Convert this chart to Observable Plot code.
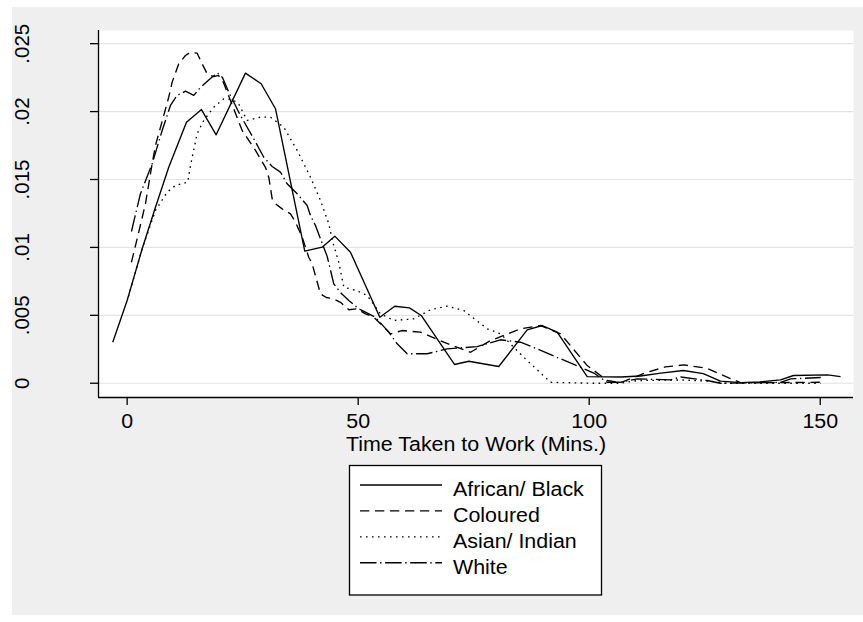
<!DOCTYPE html>
<html><head><meta charset="utf-8">
<script src="https://cdn.jsdelivr.net/npm/d3@7"></script>
<script src="https://cdn.jsdelivr.net/npm/@observablehq/plot@0.6"></script>
<style>
html,body{margin:0;padding:0;background:#fff;}
#wrap{position:relative;width:863px;height:622px;overflow:hidden;font-family:"Liberation Sans",Arial,sans-serif;}
#bg{position:absolute;left:12px;top:7px;width:851px;height:608px;background:#efefef;}
#chart{position:absolute;left:0;top:0;}
#legend{position:absolute;left:0;top:0;}
</style></head><body>
<div id="wrap"><div id="bg"></div><div id="chart"></div><svg id="legend" width="863" height="622"></svg></div>
<script>
// ---- axis setup ----
const xDomain = [-6.2, 157.2];
const yDomain = [-0.00105, 0.02597];
const xTicks = [0, 50, 100, 150];
const yTicks = [0, 0.005, 0.01, 0.015, 0.02, 0.025];
const yLabels = ["0", ".005", ".01", ".015", ".02", ".025"];
const xTitle = "Time Taken to Work (Mins.)";
const seriesNames = ["African/ Black", "Coloured", "Asian/ Indian", "White"];

// ---- series ----
const africanX = [-3.12, 0, 3.25, 6.13, 9.0, 12.84, 16.08, 19.26, 25.6, 29.0, 32.1, 38.44, 42.2, 44.94, 48.33, 54.68, 57.92, 61.1, 63.64, 70.84, 73.94, 77.92, 80.43, 86.58, 89.83, 93.07, 99.57, 106.8, 111.1, 115.5, 120.4, 124.7, 128.4, 132.7, 137, 141.4, 144.2, 151.6, 154.4];
const africanY = [0.00302, 0.00609, 0.0099, 0.01296, 0.0159, 0.01922, 0.02015, 0.01829, 0.02283, 0.02205, 0.02021, 0.00972, 0.01002, 0.01083, 0.00965, 0.00486, 0.00567, 0.00555, 0.00499, 0.00138, 0.00162, 0.00138, 0.00123, 0.00393, 0.00425, 0.00376, 0.00049, 0.00046, 0.00053, 0.00075, 0.00094, 0.00071, 0.00015, 0.00005, 0.0001, 0.00025, 0.00057, 0.00062, 0.00049];

const colouredX = [0.93, 2.51, 3.96, 5.41, 6.13, 9.0, 9.74, 11.17, 12.62, 13.7, 15.15, 16.23, 17.32, 18.68, 19.76, 20.84, 22.36, 24.9, 27.77, 29.94, 30.65, 31.39, 32.1, 33.55, 35.35, 36.43, 37.88, 39.3, 40.04, 41.84, 43.1, 44.65, 46.17, 47.97, 49.78, 51.58, 53.38, 57.0, 59.52, 63.48, 68.53, 74.31, 78.64, 85.13, 89.46, 93.79, 99.57, 103.9, 106.8, 112.55, 116.5, 120.5, 125.5, 130.2, 132.7, 141.4, 150.1];
const colouredY = [0.00891, 0.01112, 0.01321, 0.01616, 0.0175, 0.02106, 0.02217, 0.02352, 0.02413, 0.02437, 0.0243, 0.02352, 0.02278, 0.02257, 0.02266, 0.02214, 0.02082, 0.0186, 0.01714, 0.01589, 0.01517, 0.01358, 0.01321, 0.01284, 0.01247, 0.01186, 0.01075, 0.00928, 0.00879, 0.00658, 0.00631, 0.00622, 0.00596, 0.00541, 0.00548, 0.00511, 0.00486, 0.00364, 0.00388, 0.00376, 0.00302, 0.00228, 0.00314, 0.00401, 0.00425, 0.00364, 0.0013, 0.0002, 0.00005, 0.00081, 0.0012, 0.00135, 0.0011, 0.0004, 0.00005, 0.00005, 0.00007];

const asianX = [0.28, 3.25, 6.13, 8.66, 10.45, 13.12, 13.7, 15.15, 16.58, 18.74, 20.91, 22.73, 24.09, 25.97, 28.85, 31.02, 33.9, 36.8, 39.68, 41.84, 43.64, 44.5, 45.8, 46.9, 49.6, 51.95, 54.83, 57.71, 62.03, 65.65, 69.26, 72.86, 77.92, 80.8, 85.84, 91.62, 100.9, 106.8, 110.4, 119.8, 126.3, 129.5, 150.1];
const asianY = [0.00638, 0.0099, 0.01272, 0.01407, 0.01456, 0.0148, 0.01603, 0.01837, 0.01935, 0.02032, 0.02094, 0.02089, 0.0206, 0.01935, 0.01959, 0.01959, 0.01885, 0.01714, 0.01517, 0.01345, 0.01174, 0.0104, 0.0089, 0.00707, 0.00683, 0.00646, 0.00511, 0.00462, 0.00474, 0.00541, 0.00567, 0.00535, 0.00401, 0.00364, 0.00191, 0.00007, 0, 0, 0.0002, 0.00024, 0.00015, 0, 0];

const whiteX = [0.93, 2.16, 2.88, 5.41, 7.58, 9.37, 10.82, 12.62, 14.42, 15.87, 18.03, 19.55, 20.63, 21.99, 24.52, 27.4, 29.57, 31.39, 33.18, 34.63, 36.8, 38.96, 39.68, 40.76, 41.84, 43.29, 44.72, 46.17, 47.97, 50.13, 53.74, 56.62, 58.44, 60.61, 64.94, 69.26, 75.76, 80.8, 85.13, 88.74, 93.79, 98.12, 101.0, 103.9, 106.8, 110.4, 117.6, 119.8, 125.5, 128.4, 141.4, 143.6, 150.1];
const whiteY = [0.01117, 0.01294, 0.01395, 0.01616, 0.01861, 0.02045, 0.02119, 0.0215, 0.02119, 0.02178, 0.02244, 0.02284, 0.02251, 0.02143, 0.01971, 0.018, 0.01664, 0.01596, 0.01554, 0.01468, 0.01395, 0.01309, 0.01235, 0.01161, 0.01063, 0.00934, 0.00732, 0.00668, 0.00609, 0.00548, 0.00486, 0.00376, 0.0029, 0.00217, 0.00217, 0.00253, 0.0027, 0.0032, 0.00302, 0.00253, 0.0018, 0.00118, 0.00075, 0.00007, 0.00007, 0.00032, 0.00025, 0.00046, 0.0002, 0, 0.00007, 0.00032, 0.00042];

// ---- styling ----
const dashes = [null, "9.3,5.7", "1.6,4.4", "16.5,3.6,1.4,3.6"];
const FONT = "Liberation Sans, Arial, Helvetica, sans-serif";
const FS = 20;
const STRETCH = 1.07; // horizontal glyph stretch seen in the reference

const seriesXs = [africanX, colouredX, asianX, whiteX];
const seriesYs = [africanY, colouredY, asianY, whiteY];
const tables = seriesXs.map((xs, k) => xs.map((x, i) => ({x, y: seriesYs[k][i]})));

const lineMarks = tables.map((t, k) => Plot.line(t, {
  x: "x", y: "y", stroke: "#000", strokeWidth: 1.35,
  strokeDasharray: dashes[k] || undefined, strokeLinecap: "butt", strokeLinejoin: "round"
}));

const chart = Plot.plot({
  width: 863, height: 460,
  marginLeft: 98, marginRight: 10, marginTop: 30, marginBottom: 63,
  style: {background: "transparent", fontFamily: FONT, fontSize: FS + "px", color: "#000", overflow: "visible"},
  x: {domain: xDomain, ticks: xTicks},
  y: {domain: yDomain, ticks: yTicks},
  marks: [
    Plot.frame({fill: "white", stroke: "none"}),
    Plot.ruleY(yTicks, {stroke: "#e3e3e3", strokeWidth: 1.2}),
    ...lineMarks,
    Plot.ruleX([xDomain[0]], {stroke: "#000", strokeWidth: 1.3}),
    Plot.ruleY([yDomain[0]], {stroke: "#000", strokeWidth: 1.3}),
    Plot.axisY({ticks: yTicks, tickSize: 8, tickFormat: () => "", label: null, strokeWidth: 1.3}),
    Plot.text(yTicks, {y: d => d, text: (d, i) => yLabels[i], frameAnchor: "left", dx: -70,
      rotate: -90, textAnchor: "middle", lineAnchor: "bottom", fontSize: 20.5, fill: "#000"}),
    Plot.axisX({ticks: xTicks, tickSize: 8, tickPadding: 8, label: null, fontSize: FS, strokeWidth: 1.3,
      tickFormat: d => String(d)}),
    Plot.text([xTitle], {frameAnchor: "bottom", dy: 53, lineAnchor: "bottom", fontSize: FS, fill: "#000"})
  ]
});
document.getElementById("chart").appendChild(chart);

// ---- legend ----
const lg = d3.select("#legend").attr("font-family", FONT).attr("font-size", FS);
lg.append("rect").attr("x", 349.5).attr("y", 465.5).attr("width", 252).attr("height", 129.5)
  .attr("fill", "white").attr("stroke", "#000").attr("stroke-width", 1.3);
seriesNames.forEach((name, i) => {
  const yl = 485 + i * 25.9;
  const ln = lg.append("line").attr("x1", 360).attr("x2", 442).attr("y1", yl).attr("y2", yl)
    .attr("stroke", "#000").attr("stroke-width", 1.35);
  if (dashes[i]) ln.attr("stroke-dasharray", dashes[i]);
  lg.append("text").attr("x", 453).attr("y", yl + 11.4).attr("fill", "#000").text(name);
});

// slight horizontal stretch of horizontal texts (reference glyphs are wider than tall)
document.querySelectorAll("#wrap text").forEach(t => {
  const tr = (t.getAttribute("transform") || "") + (t.parentNode.getAttribute("transform") || "");
  if (tr.includes("rotate")) return;
  const w = t.getComputedTextLength();
  if (w > 0) { t.setAttribute("textLength", (w * STRETCH).toFixed(2)); t.setAttribute("lengthAdjust", "spacingAndGlyphs"); }
});
</script>
</body></html>
